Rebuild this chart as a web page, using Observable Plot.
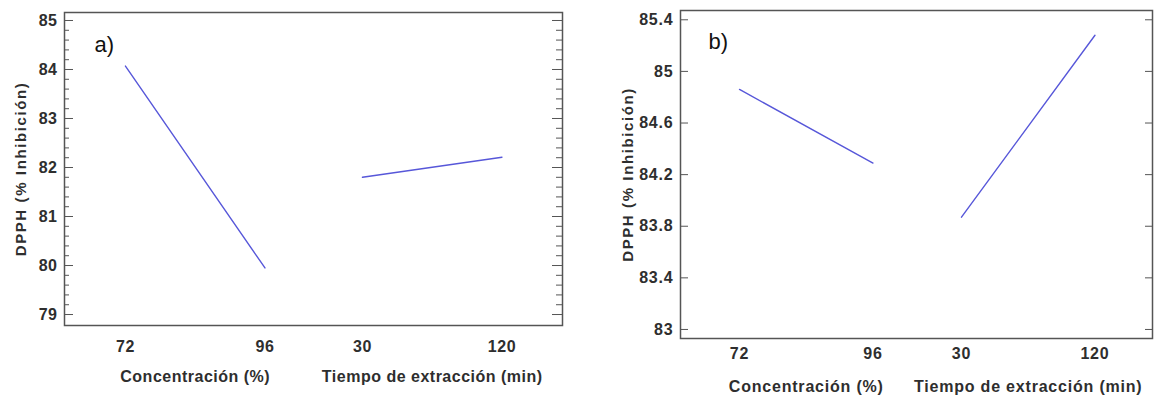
<!DOCTYPE html>
<html><head><meta charset="utf-8">
<script src="https://cdn.jsdelivr.net/npm/d3@7"></script>
<script src="https://cdn.jsdelivr.net/npm/@observablehq/plot@0.6"></script>
<style>
body{margin:0;background:#fff;}
#wrap{position:relative;width:1155px;height:404px;overflow:hidden;background:#fff;}
.panel{position:absolute;top:0;}
</style></head><body><div id="wrap"></div>
<script>
// ---- data ----
const factorNames = ["Concentración (%)", "Tiempo de extracción (min)"];
const concLevels = ["72", "96"];
const timeLevels = ["30", "120"];
const yTitle = "DPPH (% Inhibición)";
const panelLetters = ["a)", "b)"];
const dpphA_conc = [84.07, 79.95];
const dpphA_time = [81.80, 82.21];
const dpphB_conc = [84.86, 84.29];
const dpphB_time = [83.87, 85.28];
const yTicksA = [79, 80, 81, 82, 83, 84, 85];
const yTicksB = [83, 83.4, 83.8, 84.2, 84.6, 85, 85.4];

// ---- layout ----
const panels = [
  {letter: panelLetters[0], conc: dpphA_conc, time: dpphA_time, left: 0, width: 575,
   mt: 12, mr: 13, mb: 79, ml: 64, gap: 0.699, xDomain: [-0.437, 3.133], yDomain: [78.776, 85.163],
   major: yTicksA, minorStep: 0.2, majLen: 9, minLen: 5, rMajLen: 11, rMinLen: 7,
   xPad: 15.5, groupDy: 51, titleDx: -43, letterDx: 30, letterDy: 32, ls: "0.5px"},
  {letter: panelLetters[1], conc: dpphB_conc, time: dpphB_time, left: 575, width: 580,
   mt: 10, mr: 3, mb: 66, ml: 105, gap: 0.663, xDomain: [-0.442, 3.094], yDomain: [82.93, 85.472],
   major: yTicksB, minorStep: null, majLen: 8, minLen: 0, rMajLen: 8, rMinLen: 0,
   xPad: 9, groupDy: 48, titleDx: -52, letterDx: 28, letterDy: 31, ls: "0.8px"}
];

const wrap = document.getElementById("wrap");
const gray = "#555";
const txt = "#2e2e2e";

for (const p of panels) {
  const rows = [];
  const tickRows = [];
  const groupRows = [];
  [[concLevels, p.conc], [timeLevels, p.time]].forEach(([levels, vals], f) => {
    levels.forEach((lv, i) => {
      const pos = f * (1 + p.gap) + i;
      rows.push({factor: factorNames[f], level: lv, value: vals[i], pos});
      tickRows.push({pos, label: lv});
    });
    groupRows.push({pos: f * (1 + p.gap) + 0.5, label: factorNames[f]});
  });

  let minor = [];
  if (p.minorStep) {
    const lo = p.major[0], hi = p.major[p.major.length - 1];
    const n = Math.round((hi - lo) / p.minorStep);
    for (let k = 0; k <= n; k++) {
      const v = +(lo + k * p.minorStep).toFixed(4);
      if (!p.major.includes(v)) minor.push(v);
    }
  }

  const marks = [
    Plot.frame({stroke: gray, strokeWidth: 1.5}),
    Plot.axisY({ticks: p.major, tickSize: p.majLen, dx: p.majLen, fill: "none", stroke: gray, label: null}),
    Plot.axisY({anchor: "right", ticks: p.major, tickSize: p.rMajLen, dx: -p.rMajLen, fill: "none", stroke: gray, label: null}),
    Plot.axisY({ticks: p.major, tickSize: 0, tickPadding: 7, fill: txt, label: null, tickFormat: d3.format("~g")}),
    Plot.line(rows, {x: "pos", y: "value", z: "factor", stroke: "#5757d9", strokeWidth: 1.4}),
    Plot.text(tickRows, {x: "pos", text: "label", frameAnchor: "bottom", lineAnchor: "top", dy: p.xPad, fill: txt}),
    Plot.text(groupRows, {x: "pos", text: "label", frameAnchor: "bottom", lineAnchor: "middle", dy: p.groupDy, fill: txt}),
    Plot.text([yTitle], {frameAnchor: "left", textAnchor: "middle", lineAnchor: "middle", rotate: -90, dx: p.titleDx, fill: txt}),
    Plot.text([p.letter], {frameAnchor: "top-left", textAnchor: "start", lineAnchor: "middle", dx: p.letterDx, dy: p.letterDy, fontSize: 22, fontWeight: "normal", fill: "#111"})
  ];
  if (minor.length) {
    marks.splice(1, 0,
      Plot.axisY({ticks: minor, tickSize: p.minLen, dx: p.minLen, fill: "none", stroke: gray, label: null}),
      Plot.axisY({anchor: "right", ticks: minor, tickSize: p.rMinLen, dx: -p.rMinLen, fill: "none", stroke: gray, label: null}));
  }

  const svg = Plot.plot({
    width: p.width, height: 404,
    marginTop: p.mt, marginRight: p.mr, marginBottom: p.mb, marginLeft: p.ml,
    x: {type: "linear", domain: p.xDomain, axis: null},
    y: {domain: p.yDomain},
    style: {fontFamily: "'Liberation Sans', Arial, sans-serif", fontSize: "16px", fontWeight: "bold", letterSpacing: p.ls, background: "white", overflow: "visible"},
    marks
  });
  d3.select(svg).selectAll("text").filter(function(){ return this.textContent === yTitle; }).style("letter-spacing", "1.6px").style("font-size", "15px");
  d3.select(svg).selectAll("text").filter(function(){ return this.textContent === p.letter; }).style("letter-spacing", "0px");
  const div = document.createElement("div");
  div.className = "panel";
  div.style.left = p.left + "px";
  div.appendChild(svg);
  wrap.appendChild(div);
}
</script></body></html>
